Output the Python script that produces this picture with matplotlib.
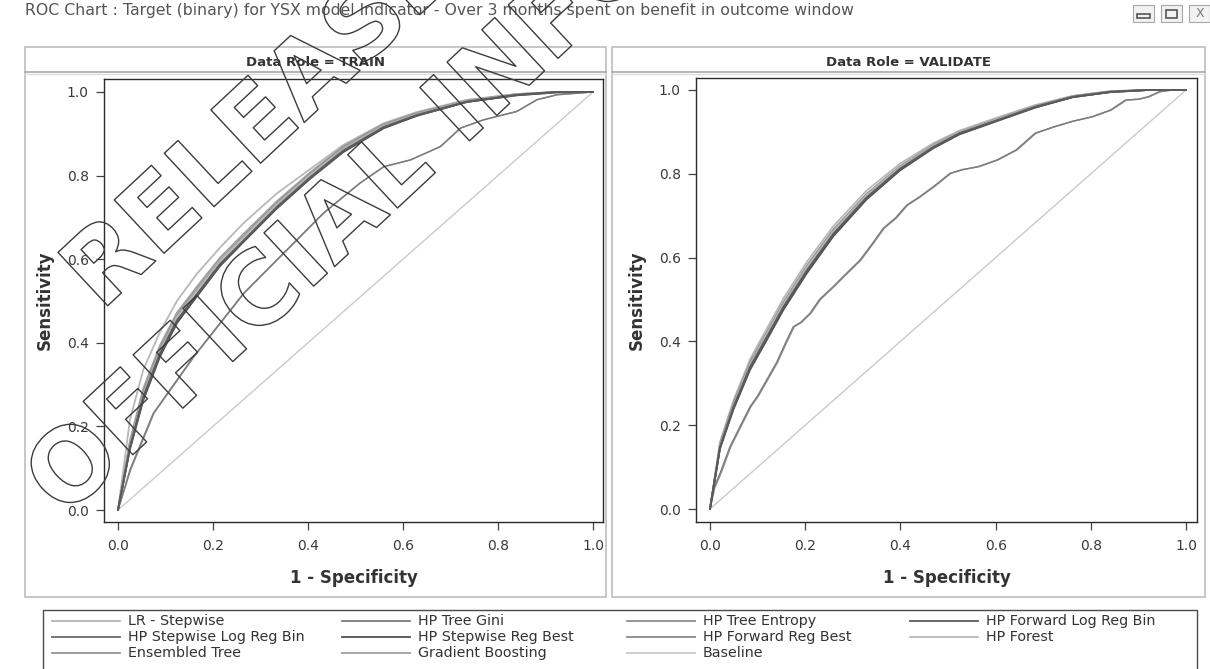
import matplotlib
matplotlib.use("Agg")
import matplotlib.pyplot as plt
import matplotlib.patheffects as pe
from matplotlib.patches import Rectangle

plt.rcParams['font.family'] = ['DejaVu Sans']

# ---- text ----
title = "ROC Chart : Target (binary) for YSX model Indicator - Over 3 months spent on benefit in outcome window"
roles = ["TRAIN", "VALIDATE"]
models = ["LR - Stepwise", "HP Tree Gini", "HP Tree Entropy", "HP Forward Log Reg Bin",
          "HP Stepwise Log Reg Bin", "HP Stepwise Reg Best", "HP Forward Reg Best", "HP Forest",
          "Ensembled Tree", "Gradient Boosting", "Baseline"]
model_colors = ["#b4b4b4", "#7c7c7c", "#8e8e8e", "#5a5a5a",
                "#6c6c6c", "#525252", "#8a8a8a", "#b8b8b8",
                "#949494", "#a0a0a0", "#cacaca"]
ticks = [0.0, 0.2, 0.4, 0.6, 0.8, 1.0]
watermark = ["RELEASED", "OFFICIAL INFORMATION"]

# ---- TRAIN data ----
train_fpr = [0, 0.025, 0.053, 0.088, 0.124, 0.166, 0.215, 0.264, 0.334, 0.404, 0.474, 0.559, 0.629, 0.734, 0.839, 0.924, 1.0]
train_lr = [0, 0.155, 0.275, 0.380, 0.462, 0.525, 0.596, 0.652, 0.731, 0.801, 0.864, 0.919, 0.947, 0.978, 0.994, 1.0, 1.0]
train_fwd_logreg = [0, 0.148, 0.268, 0.372, 0.452, 0.515, 0.587, 0.643, 0.723, 0.794, 0.858, 0.915, 0.944, 0.976, 0.993, 1.0, 1.0]
train_step_logreg = [0, 0.150, 0.270, 0.374, 0.454, 0.517, 0.589, 0.645, 0.725, 0.796, 0.860, 0.916, 0.945, 0.977, 0.993, 1.0, 1.0]
train_step_reg = [0, 0.145, 0.262, 0.366, 0.447, 0.511, 0.584, 0.641, 0.721, 0.792, 0.856, 0.913, 0.943, 0.976, 0.992, 0.999, 1.0]
train_fwd_reg = [0, 0.146, 0.264, 0.368, 0.449, 0.512, 0.585, 0.642, 0.722, 0.793, 0.857, 0.914, 0.943, 0.976, 0.992, 0.999, 1.0]
train_forest = [0, 0.215, 0.335, 0.425, 0.500, 0.565, 0.628, 0.686, 0.757, 0.815, 0.873, 0.925, 0.952, 0.981, 0.995, 1.0, 1.0]
train_ensemble = [0, 0.160, 0.282, 0.386, 0.466, 0.528, 0.598, 0.655, 0.734, 0.804, 0.867, 0.921, 0.949, 0.979, 0.994, 1.0, 1.0]
train_gb = [0, 0.165, 0.290, 0.393, 0.472, 0.534, 0.604, 0.660, 0.738, 0.807, 0.870, 0.923, 0.950, 0.980, 0.995, 1.0, 1.0]
train_gini_fpr = [0, 0.025, 0.074, 0.159, 0.264, 0.432, 0.509, 0.559, 0.615, 0.678, 0.72, 0.769, 0.839, 0.881, 0.924, 1.0]
train_gini_tpr = [0, 0.096, 0.231, 0.367, 0.518, 0.710, 0.782, 0.821, 0.837, 0.869, 0.913, 0.933, 0.953, 0.981, 0.993, 1.0]
train_entropy_fpr = [0, 0.027, 0.076, 0.161, 0.266, 0.434, 0.511, 0.561, 0.617, 0.680, 0.722, 0.771, 0.841, 0.883, 0.926, 1.0]
train_entropy_tpr = [0, 0.097, 0.232, 0.368, 0.519, 0.711, 0.783, 0.822, 0.838, 0.870, 0.914, 0.934, 0.954, 0.982, 0.994, 1.0]

# ---- VALIDATE data ----
val_fpr = [0, 0.021, 0.049, 0.084, 0.119, 0.154, 0.203, 0.259, 0.329, 0.399, 0.469, 0.524, 0.603, 0.683, 0.762, 0.841, 0.92, 1.0]
val_lr = [0, 0.152, 0.248, 0.345, 0.417, 0.489, 0.576, 0.663, 0.749, 0.816, 0.867, 0.899, 0.930, 0.961, 0.985, 0.996, 1.0, 1.0]
val_fwd_logreg = [0, 0.147, 0.241, 0.337, 0.408, 0.480, 0.567, 0.655, 0.742, 0.811, 0.863, 0.896, 0.927, 0.959, 0.983, 0.995, 1.0, 1.0]
val_step_logreg = [0, 0.148, 0.243, 0.339, 0.410, 0.482, 0.569, 0.657, 0.744, 0.812, 0.864, 0.897, 0.928, 0.960, 0.984, 0.996, 1.0, 1.0]
val_step_reg = [0, 0.144, 0.237, 0.332, 0.403, 0.475, 0.562, 0.651, 0.739, 0.808, 0.861, 0.894, 0.926, 0.958, 0.983, 0.995, 1.0, 1.0]
val_fwd_reg = [0, 0.145, 0.239, 0.334, 0.405, 0.477, 0.564, 0.652, 0.740, 0.809, 0.862, 0.895, 0.926, 0.958, 0.983, 0.995, 1.0, 1.0]
val_forest = [0, 0.160, 0.258, 0.357, 0.430, 0.502, 0.589, 0.675, 0.760, 0.824, 0.873, 0.903, 0.934, 0.964, 0.986, 0.997, 1.0, 1.0]
val_ensemble = [0, 0.155, 0.253, 0.350, 0.421, 0.493, 0.580, 0.667, 0.752, 0.818, 0.869, 0.900, 0.931, 0.962, 0.985, 0.997, 1.0, 1.0]
val_gb = [0, 0.153, 0.250, 0.347, 0.419, 0.491, 0.578, 0.665, 0.751, 0.817, 0.868, 0.899, 0.930, 0.961, 0.985, 0.996, 1.0, 1.0]
val_gini_fpr = [0, 0.008, 0.021, 0.042, 0.06, 0.084, 0.10, 0.119, 0.14, 0.16, 0.175, 0.19, 0.210, 0.23, 0.259, 0.28,
                0.315, 0.34, 0.364, 0.39, 0.413, 0.44, 0.469, 0.504, 0.53, 0.563, 0.603, 0.643, 0.683, 0.722, 0.76,
                0.802, 0.841, 0.873, 0.90, 0.921, 0.944, 0.97, 1.0]
val_gini_tpr = [0, 0.05, 0.085, 0.149, 0.19, 0.244, 0.27, 0.308, 0.35, 0.40, 0.435, 0.445, 0.467, 0.50, 0.531, 0.555,
                0.594, 0.632, 0.67, 0.695, 0.725, 0.745, 0.769, 0.801, 0.81, 0.817, 0.833, 0.857, 0.897, 0.912, 0.925,
                0.936, 0.952, 0.976, 0.978, 0.984, 0.996, 1.0, 1.0]
val_entropy_fpr = [0, 0.01, 0.023, 0.044, 0.062, 0.086, 0.102, 0.121, 0.142, 0.162, 0.177, 0.192, 0.212, 0.232, 0.261,
                   0.282, 0.317, 0.342, 0.366, 0.392, 0.415, 0.442, 0.471, 0.506, 0.532, 0.565, 0.605, 0.645, 0.685,
                   0.724, 0.762, 0.804, 0.843, 0.875, 0.902, 0.923, 0.946, 0.972, 1.0]
val_entropy_tpr = val_gini_tpr

baseline = [0.0, 1.0]

train_curves = {
    "LR - Stepwise": (train_fpr, train_lr),
    "HP Tree Gini": (train_gini_fpr, train_gini_tpr),
    "HP Tree Entropy": (train_entropy_fpr, train_entropy_tpr),
    "HP Forward Log Reg Bin": (train_fpr, train_fwd_logreg),
    "HP Stepwise Log Reg Bin": (train_fpr, train_step_logreg),
    "HP Stepwise Reg Best": (train_fpr, train_step_reg),
    "HP Forward Reg Best": (train_fpr, train_fwd_reg),
    "HP Forest": (train_fpr, train_forest),
    "Ensembled Tree": (train_fpr, train_ensemble),
    "Gradient Boosting": (train_fpr, train_gb),
    "Baseline": (baseline, baseline),
}
val_curves = {
    "LR - Stepwise": (val_fpr, val_lr),
    "HP Tree Gini": (val_gini_fpr, val_gini_tpr),
    "HP Tree Entropy": (val_entropy_fpr, val_entropy_tpr),
    "HP Forward Log Reg Bin": (val_fpr, val_fwd_logreg),
    "HP Stepwise Log Reg Bin": (val_fpr, val_step_logreg),
    "HP Stepwise Reg Best": (val_fpr, val_step_reg),
    "HP Forward Reg Best": (val_fpr, val_fwd_reg),
    "HP Forest": (val_fpr, val_forest),
    "Ensembled Tree": (val_fpr, val_ensemble),
    "Gradient Boosting": (val_fpr, val_gb),
    "Baseline": (baseline, baseline),
}

W, H = 1210, 669
fig = plt.figure(figsize=(W / 100, H / 100), dpi=100)
fig.patch.set_facecolor("white")


def px_axes(l, t, r, b):
    return fig.add_axes([l / W, 1 - b / H, (r - l) / W, (b - t) / H])


# draw order: baseline, trees, forest, then the bundle of regression models
draw_order = ["Baseline", "HP Tree Entropy", "HP Tree Gini", "HP Forest", "Gradient Boosting",
              "Ensembled Tree", "LR - Stepwise", "HP Forward Reg Best", "HP Stepwise Reg Best",
              "HP Stepwise Log Reg Bin", "HP Forward Log Reg Bin"]

panels = [
    (px_axes(104, 79, 603, 522), train_curves, (-0.0295, 1.021), (-0.0287, 1.031)),
    (px_axes(696, 78, 1197, 522), val_curves, (-0.0294, 1.023), (-0.031, 1.0286)),
]
for ax, curves, xl, yl in panels:
    for name in draw_order:
        x, y = curves[name]
        c = model_colors[models.index(name)]
        lw = 1.0 if name in ("Baseline", "HP Tree Gini", "HP Tree Entropy") else 1.3
        ax.plot(x, y, color=c, lw=lw, solid_joinstyle="round")
    ax.set_xlim(*xl)
    ax.set_ylim(*yl)
    ax.set_xticks(ticks)
    ax.set_yticks(ticks)
    ax.set_xticklabels([f"{t:.1f}" for t in ticks])
    ax.set_yticklabels([f"{t:.1f}" for t in ticks])
    ax.tick_params(direction="out", length=6, width=0.9, color="#444444",
                   labelcolor="#3a3a3a", labelsize=10)
    ax.tick_params(axis="x", pad=6)
    ax.tick_params(axis="y", pad=5)
    for s in ax.spines.values():
        s.set_color("#2a2a2a")
        s.set_linewidth(1.0)
    ax.set_xlabel("1 - Specificity", fontsize=12, fontweight="bold", color="#333333")
    ax.set_ylabel("Sensitivity", fontsize=12, fontweight="bold", color="#333333")
    ax.xaxis.set_label_coords(0.5, -0.126)
    ax.xaxis.label.set_va("center")
    ax.yaxis.set_label_coords(-0.118, 0.5)
    ax.yaxis.label.set_va("center")

# ---- overlay in pixel coordinates: frames, title, legend, watermark ----
ov = fig.add_axes([0, 0, 1, 1], zorder=10)
ov.set_xlim(0, W)
ov.set_ylim(H, 0)
ov.axis("off")
ov.patch.set_alpha(0)

ov.text(25, 11, title, fontsize=11.3, color="#555555", va="center", ha="left")
for bx in (1133, 1161, 1189):
    ov.add_patch(Rectangle((bx, 5), 21, 17, fill=True, facecolor="#f2f2f2", edgecolor="#a8a8a8", lw=0.8))
ov.add_patch(Rectangle((1137, 14), 13, 4, fill=False, edgecolor="#555555", lw=1.2))
ov.add_patch(Rectangle((1166, 10), 11, 8, fill=False, edgecolor="#555555", lw=1.2))
ov.text(1199.5, 13.5, "X", fontsize=9, color="#777777", ha="center", va="center")

for (l, r), role in zip([(25, 606), (612, 1205)], roles):
    ov.add_patch(Rectangle((l, 47), r - l, 550, fill=False, edgecolor="#bdbdbd", lw=1.2))
    ov.plot([l, r], [72, 72], color="#a8a8a8", lw=1.2)
    ov.plot([l, r], [74, 74], color="#dddddd", lw=1.0)
    ov.text((l + r) / 2, 62, f"Data Role = {role}", fontsize=9.5, fontweight="bold",
            color="#333333", ha="center", va="center")

# legend box, row-major with 4 columns
ov.add_patch(Rectangle((43, 610), 1154, 70, fill=False, edgecolor="#4a4a4a", lw=1.0))
col_x = [52, 342, 627, 910]
row_y = [621, 637, 653]
for i, name in enumerate(models):
    cx = col_x[i % 4]
    ry = row_y[i // 4]
    ov.plot([cx, cx + 68], [ry, ry], color=model_colors[i], lw=1.3)
    ov.text(cx + 76, ry, name, fontsize=10.3, color="#333333", ha="left", va="center")

# outlined watermark stamp
stroke = [pe.Stroke(linewidth=1.0, foreground="#3c3c3c")]
ov.text(101, 312, watermark[0], rotation=43, rotation_mode="anchor", ha="left", va="baseline",
        fontsize=72, fontweight="bold", color="none", path_effects=stroke)
ov.text(64, 519, watermark[1], rotation=43, rotation_mode="anchor", ha="left", va="baseline",
        fontsize=72, fontweight="bold", color="none", path_effects=stroke)

fig.savefig("out.png", dpi=100)
